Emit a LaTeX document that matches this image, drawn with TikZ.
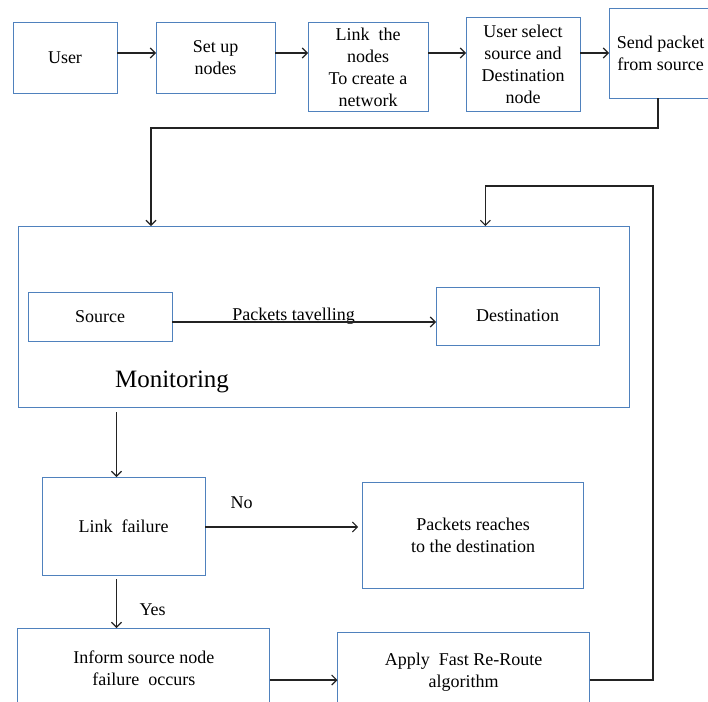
\documentclass[tikz,border=0pt]{standalone}
\usepackage{fontspec}
\setmainfont{Liberation Serif}
\newfontfamily\tnr{Liberation Serif}
\usetikzlibrary{arrows.meta}
\definecolor{boxblue}{RGB}{79,129,189}
\definecolor{linegray}{RGB}{35,35,35}
\begin{document}
\begin{tikzpicture}[x=1pt,y=-1pt,
  box/.style={draw=boxblue, line width=1pt, align=center, inner sep=2pt, outer sep=0pt,
    font=\tnr\fontsize{18}{22}\selectfont},
  conn/.style={draw=linegray, line width=1.1pt, -{Straight Barb[length=5pt,width=10pt]}},
  lbl/.style={font=\tnr\fontsize{18}{22}\selectfont, inner sep=0pt, anchor=base}]
\useasboundingbox (0,0) rectangle (708,701);
\clip (0,0) rectangle (708,701);
\fill[white] (0,0) rectangle (708,701);

% top row
\node[box, minimum width=104, minimum height=70] (user) at (65,58) {User};
\node[box, minimum width=119, minimum height=70] (setup) at (215.5,58) {Set up\\nodes};
\node[box, minimum width=120, minimum height=88] (link) at (368,67) {Link\ \ the\\nodes\\To create a\\network};
\node[box, minimum width=114, minimum height=93] (usel) at (523,64.5) {User select\\source and\\Destination\\node};
\node[box, minimum width=103, minimum height=89] (send) at (660.5,53.5) {Send packet\\from source};

% monitoring block
\node[box, minimum width=611, minimum height=181] (mon) at (323.5,316.5) {};
\node[box, minimum width=144, minimum height=49] (src) at (100,316.5) {Source};
\node[box, minimum width=163, minimum height=58] (dst) at (517.5,316) {Destination};
\node[lbl, font=\tnr\fontsize{25}{30}\selectfont] (montxt) at (172,387) {Monitoring};
\node[lbl] (ptrav) at (293.5,320) {Packets tavelling};

% lower part
\node[box, minimum width=163, minimum height=98] (linkf) at (123.7,526) {Link\ \ failure};
\node[box, minimum width=221, minimum height=106] (pkt) at (473.2,535) {Packets reaches\\to the destination};
\node[box, minimum width=252, minimum height=80] (inform) at (143.8,668) {Inform source node\\failure\ \ occurs};
\node[box, minimum width=252, minimum height=80] (apply) at (463.5,672) {Apply\ \ Fast Re-Route\\algorithm};
\node[lbl] (no) at (241.6,508) {No};
\node[lbl] (yes) at (152.6,615) {Yes};

% connectors
\draw[conn] (user.east |- 0,53) -- (setup.west |- 0,53);
\draw[conn] (setup.east |- 0,53) -- (link.west |- 0,53);
\draw[conn] (link.east |- 0,53) -- (usel.west |- 0,53);
\draw[conn] (usel.east |- 0,53) -- (send.west |- 0,53);
\draw[conn] (send.south -| 658,0) -- (658,128) -| (mon.north -| 151,0);
\draw[conn] (src.east |- 0,322) -- (dst.west |- 0,322);
\draw[conn, shorten <=5pt] (mon.south -| 116.5,0) -- (linkf.north -| 116.5,0);
\draw[conn, shorten >=4.5pt] (linkf.east |- 0,527) -- (pkt.west |- 0,527);
\draw[conn, shorten <=4pt] (linkf.south -| 116.5,0) -- (inform.north -| 116.5,0);
\draw[conn] (inform.east |- 0,680) -- (apply.west |- 0,680);
\draw[conn] (apply.east |- 0,680) -| (653,186) -| (mon.north -| 485.4,0);
\end{tikzpicture}
\end{document}
